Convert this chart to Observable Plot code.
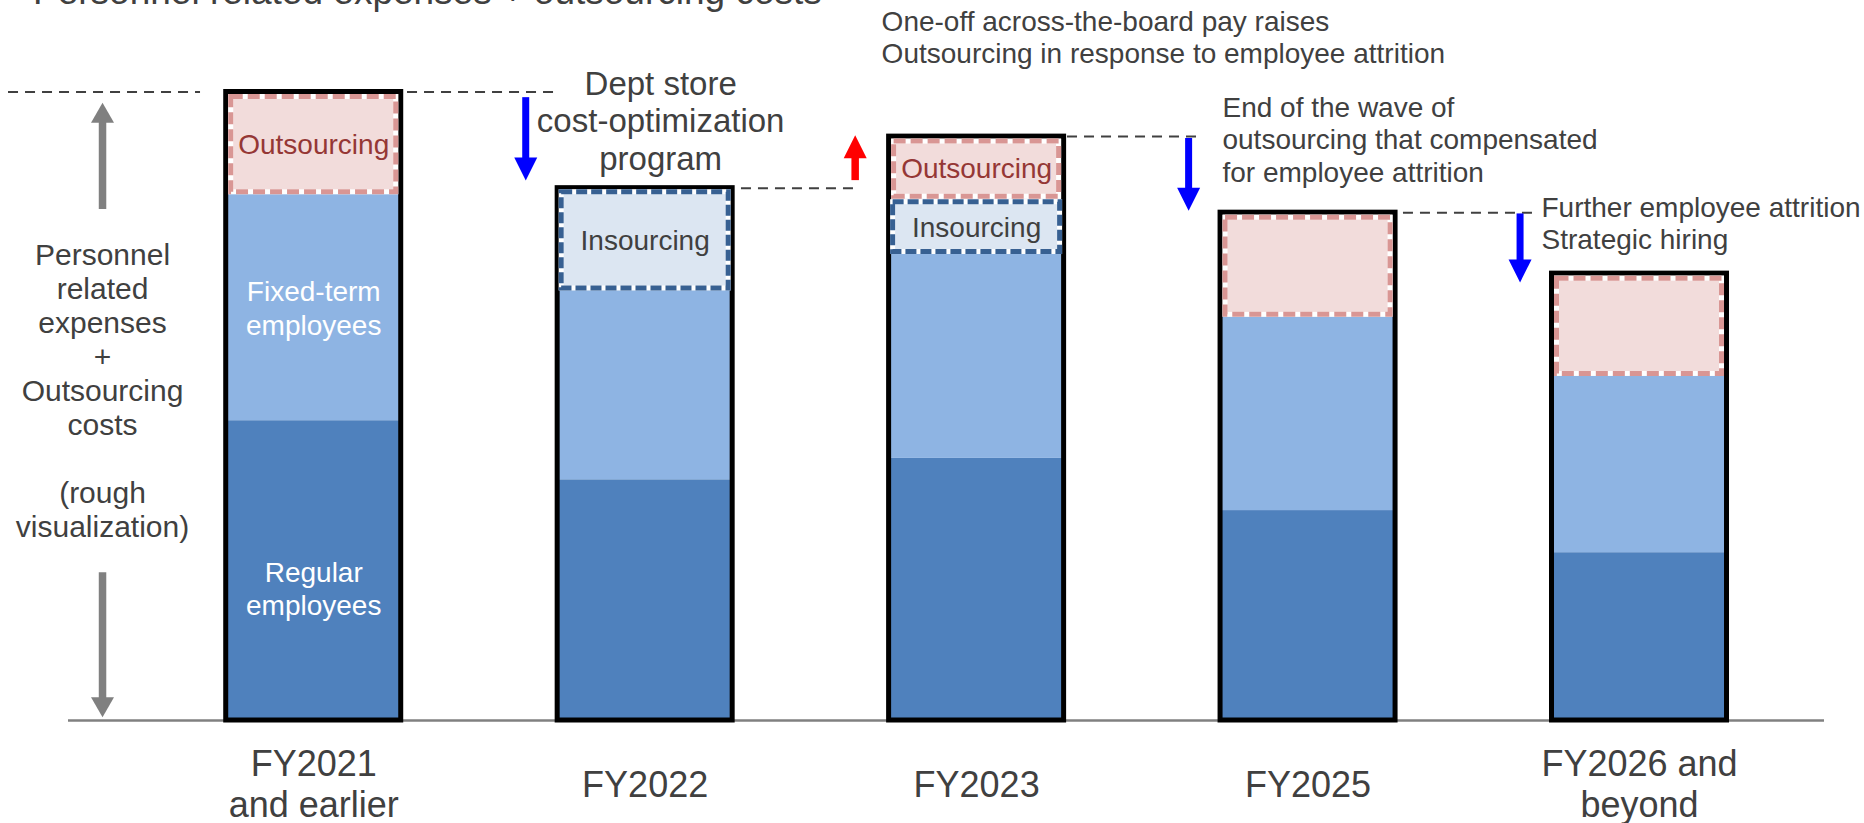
<!DOCTYPE html>
<html>
<head>
<meta charset="utf-8">
<script src="https://cdn.jsdelivr.net/npm/d3@7"></script>
<script src="https://cdn.jsdelivr.net/npm/@observablehq/plot@0.6"></script>
<style>
  html, body { margin: 0; padding: 0; background: #fff; }
  body { position: relative; width: 1864px; height: 823px; overflow: hidden;
         font-family: "Liberation Sans", Arial, sans-serif; }
  #title { position: absolute; left: 33px; top: -27px; font-size: 37px; line-height: 37px;
           color: #404040; white-space: nowrap; }
</style>
</head>
<body>
<div id="chart"></div>
<div id="title">Personnel related expenses + outsourcing costs</div>
<script>
// ---------------- data (rough visualization units, FY2021 total = 100) ----------------
const categories = ["FY2021\nand earlier", "FY2022", "FY2023", "FY2025", "FY2026 and\nbeyond"];
const regular     = [47.7, 38.3, 41.7, 33.4, 26.7];
const fixedTerm   = [36.1, 30.2, 32.6, 30.9, 28.2];
const insourcing  = [0, 16.2, 8.8, 0, 0];
const outsourcing = [16.2, 0, 9.8, 16.5, 16.2];
const segmentNames = ["Regular employees", "Fixed-term employees", "Insourcing", "Outsourcing"];
const regularLabels     = ["Regular\nemployees", "", "", "", ""];
const fixedLabels       = ["Fixed-term\nemployees", "", "", "", ""];
const insourcingLabels  = ["", "Insourcing", "Insourcing", "", ""];
const outsourcingLabels = ["Outsourcing", "", "Outsourcing", "", ""];
// change arrows between consecutive bars (level from -> level to)
const changeFrom = [99.1, 85.9, 92.6, 80.6];
const changeTo   = [85.9, 93.1, 81.1, 69.7];
const changeNotes = [
  "Dept store\ncost-optimization\nprogram",
  "One-off across-the-board pay raises\nOutsourcing in response to employee attrition",
  "End of the wave of\noutsourcing that compensated\nfor employee attrition",
  "Further employee attrition\nStrategic hiring"
];
const axisTitle = "Personnel\nrelated\nexpenses\n+\nOutsourcing\ncosts\n\n(rough\nvisualization)";
// double arrow showing the full height of the first bar
const spanFrom = [81.3, 23.5];
const spanTo   = [98.3, 0.5];

// ---------------- styles ----------------
const segmentColors = ["#4F81BD", "#8EB4E3", "#DCE6F2", "#F2DCDB"];
const TEXT = "#404040";
const W = 1864, H = 823, ML = 68, MR = 40, MT = 91.5, MB = 103;
const PI = 0.472, PO = 0.385, AL = 0.618;
const bw = d3.scaleBand(categories, [ML, W - MR]).paddingInner(PI).paddingOuter(PO).align(AL).bandwidth();

// ---------------- tables built from the arrays ----------------
const series = [regular, fixedTerm, insourcing, outsourcing];
const seriesLabels = [regularLabels, fixedLabels, insourcingLabels, outsourcingLabels];
const rows = [];
categories.forEach((c, i) => {
  let base = 0;
  series.forEach((s, k) => {
    const v = s[i];
    if (v > 0) rows.push({cat: c, seg: segmentNames[k], y1: base, y2: base + v, label: seriesLabels[k][i]});
    base += v;
  });
});
const totals = categories.map((c, i) => ({cat: c, total: d3.sum(series, s => s[i])}));
const changes = changeFrom.map((f, i) => ({cat: categories[i], from: f, to: changeTo[i], up: changeTo[i] > f}));
const spans = spanFrom.map((f, i) => ({cat: categories[0], from: f, to: spanTo[i], up: spanTo[i] > f}));

function head(w, h, dir) {
  const s = dir === "up" ? 1 : -1;
  return {draw(ctx) { ctx.moveTo(0, 0); ctx.lineTo(w / 2, s * h); ctx.lineTo(-w / 2, s * h); ctx.closePath(); }};
}
function arrowMarks(data, color, dx, hw, hh, sw) {
  const up = data.filter(d => d.up), down = data.filter(d => !d.up);
  return [
    Plot.ruleX(up, {x: "cat", y1: "to", y2: "from", dx, insetTop: hh - 3, stroke: color, strokeWidth: sw}),
    Plot.ruleX(down, {x: "cat", y1: "from", y2: "to", dx, insetBottom: hh - 3, stroke: color, strokeWidth: sw}),
    Plot.dot(up, {x: "cat", y: "to", dx, r: 1, symbol: head(hw, hh, "up"), fill: color}),
    Plot.dot(down, {x: "cat", y: "to", dx, r: 1, symbol: head(hw, hh, "down"), fill: color})
  ];
}

// dashed guide lines at bar-top levels (x offsets relative to band start)
const guides = [
  {i: 0, x1: -217.7, x2: -25.7},
  {i: 0, x1: bw + 6.3, x2: bw + 152.3},
  {i: 1, x1: bw + 8.8, x2: bw + 127.8},
  {i: 2, x1: bw + 3.4, x2: bw + 138.4},
  {i: 3, x1: bw + 7.9, x2: bw + 141.9}
];
const noteStyle = [
  {dx: 15.5, dy: -68, textAnchor: "middle", fontSize: 33, lineHeight: 1.14},
  {dx: -95, dy: -100, textAnchor: "start", fontSize: 28, lineHeight: 1.16},
  {dx: -85.6, dy: -73.8, textAnchor: "start", fontSize: 28, lineHeight: 1.17},
  {dx: -98, dy: -50.6, textAnchor: "start", fontSize: 28, lineHeight: 1.15}
];

const segText = (name, fill, dy) => Plot.text(rows.filter(d => d.seg === name && d.label), {
  x: "cat", y: d => (d.y1 + d.y2) / 2, text: "label", fill, dy,
  fontSize: 28, lineHeight: 1.21, lineAnchor: "middle"
});
const dashed = (name, stroke, dash, sw, ins, insTop) => [
  Plot.barY(rows.filter(d => d.seg === name), {x: "cat", y1: "y1", y2: "y2", fill: "none", stroke: "white",
    strokeWidth: sw, insetLeft: ins, insetRight: ins, insetTop: insTop, insetBottom: 1.5}),
  Plot.barY(rows.filter(d => d.seg === name), {x: "cat", y1: "y1", y2: "y2", fill: "none", stroke,
    strokeWidth: sw, strokeDasharray: dash, insetLeft: ins, insetRight: ins, insetTop: insTop, insetBottom: 1.5})
];

const chart = Plot.plot({
  width: W, height: H,
  marginLeft: ML, marginRight: MR, marginTop: MT, marginBottom: MB,
  style: {background: "white", fontFamily: "'Liberation Sans', Arial, sans-serif", overflow: "visible"},
  x: {type: "band", domain: categories, paddingInner: PI, paddingOuter: PO, align: AL, round: false, axis: null},
  y: {domain: [0, 100], axis: null},
  color: {domain: segmentNames, range: segmentColors},
  marks: [
    Plot.ruleY([0], {stroke: "#808080", strokeWidth: 2.5}),
    Plot.barY(rows, {x: "cat", y1: "y1", y2: "y2", fill: "seg"}),
    Plot.barY(totals, {x: "cat", y1: () => 0, y2: "total", fill: "none", stroke: "black", strokeWidth: 5}),
    ...dashed("Outsourcing", "#D99694", "12,5", 5, 5, 5),
    ...dashed("Insourcing", "#376092", "11,4", 5, 4, 4),
    segText("Regular employees", "white", 17),
    segText("Fixed-term employees", "white", 0),
    segText("Insourcing", TEXT, 0),
    segText("Outsourcing", "#953735", 0),
    ...guides.map(g => Plot.tickY([totals[g.i]], {x: "cat", y: "total", insetLeft: g.x1, insetRight: bw - g.x2,
      stroke: TEXT, strokeWidth: 2, strokeDasharray: "10,7"})),
    ...arrowMarks(changes.filter(d => !d.up), "#0000FF", 212, 23, 23, 7),
    ...arrowMarks(changes.filter(d => d.up), "#FF0000", 210, 23, 23, 7.5),
    ...changeNotes.map((t, i) => Plot.text([totals[i + 1]], {x: "cat", y: "total", text: () => t,
      fill: TEXT, lineAnchor: "middle", ...noteStyle[i]})),
    Plot.text(categories, {x: d => d, text: d => d, frameAnchor: "bottom", dy: 63, fontSize: 36,
      lineHeight: 1.14, lineAnchor: "middle", fill: TEXT}),
    Plot.text([axisTitle], {text: d => d, frameAnchor: "left", dx: 34, dy: -15.75, fontSize: 30,
      lineHeight: 1.133, lineAnchor: "middle", textAnchor: "middle", fill: TEXT}),
    ...arrowMarks(spans, "#808080", -211.2, 23, 20, 7.5)
  ]
});
document.getElementById("chart").appendChild(chart);
</script>
</body>
</html>
